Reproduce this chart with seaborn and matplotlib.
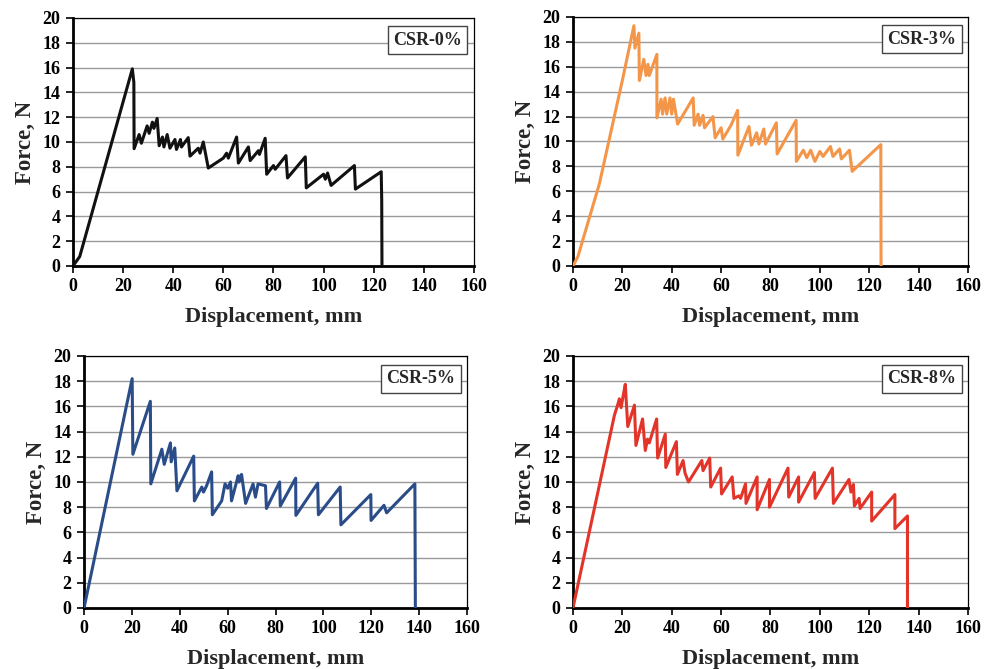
import pandas as pd
import matplotlib.pyplot as plt
import seaborn as sns

csr0_x = [0, 2.7, 23.7, 24.3, 24.4, 26.4, 27.3, 29.6, 30.4, 31.7, 32.3, 33.6, 34.4, 35.7, 36.3, 37.6,
          38.7, 40.7, 41.3, 42.9, 43.3, 46.0, 46.7, 50.0, 50.7, 52.0, 54.0, 60.0, 61.3, 62.0, 65.3, 66.0,
          70.0, 70.7, 74.0, 74.4, 76.7, 77.3, 80.0, 80.7, 85.0, 85.6, 92.7, 93.1, 100.0, 100.7, 101.6,
          103.0, 112.3, 112.7, 123.0, 123.2, 123.3]
csr0_y = [0, 0.76, 15.9, 14.8, 9.46, 10.6, 9.9, 11.3, 10.7, 11.6, 11.1, 11.9, 9.7, 10.4, 9.6, 10.6,
          9.5, 10.2, 9.4, 10.2, 9.6, 10.35, 8.86, 9.5, 9.1, 10.0, 7.9, 8.7, 9.1, 8.7, 10.4, 8.3,
          9.6, 8.5, 9.3, 9.0, 10.3, 7.4, 8.1, 7.8, 8.9, 7.1, 8.8, 6.3, 7.4, 7.0, 7.5,
          6.5, 8.1, 6.2, 7.6, 5.3, 0]

csr3_x = [0, 2.0, 10.7, 20.0, 24.7, 25.1, 26.7, 26.9, 28.7, 29.6, 30.4, 30.9, 34.0, 34.0, 35.7, 36.3,
          37.3, 38.0, 39.3, 40.0, 40.7, 42.4, 48.7, 49.1, 50.7, 51.3, 52.7, 53.3, 56.7, 57.6, 60.0,
          60.7, 64.0, 66.7, 66.8, 71.3, 72.3, 74.4, 75.3, 77.3, 78.0, 82.4, 82.7, 90.4, 90.5, 93.3,
          94.7, 96.3, 98.0, 100.0, 101.3, 104.3, 105.3, 108.0, 108.7, 112.0, 113.1, 124.7, 124.8]
csr3_y = [0, 0.75, 6.6, 14.9, 19.3, 17.5, 18.7, 14.9, 16.6, 15.3, 16.2, 15.3, 17.0, 11.9, 13.4, 12.2,
          13.5, 12.2, 13.5, 12.2, 13.4, 11.4, 13.5, 11.3, 12.2, 11.3, 12.1, 11.1, 12.0, 10.3, 11.1,
          10.2, 11.3, 12.5, 8.9, 11.2, 9.7, 10.7, 9.8, 11.0, 9.8, 11.5, 9.0, 11.7, 8.4, 9.3,
          8.7, 9.3, 8.4, 9.2, 8.8, 9.6, 8.8, 9.4, 8.6, 9.3, 7.6, 9.75, 0]

csr5_x = [0, 20.1, 20.4, 27.7, 27.9, 32.5, 33.5, 36.1, 36.4, 37.9, 38.8, 45.8, 46.1, 49.2, 49.9, 51.2,
          53.3, 53.6, 57.5, 58.9, 60.0, 61.2, 61.6, 64.4, 64.7, 65.8, 67.5, 70.6, 71.6, 72.7, 75.8,
          76.2, 81.7, 82.0, 88.4, 88.5, 97.6, 97.9, 107.0, 107.3, 119.8, 119.9, 125.3, 126.4, 138.2, 138.4]
csr5_y = [0, 18.2, 12.2, 16.4, 9.85, 12.6, 11.4, 13.1, 11.6, 12.7, 9.3, 12.05, 8.5, 9.6, 9.2, 9.7,
          10.8, 7.4, 8.5, 9.85, 9.5, 10.0, 8.5, 10.5, 10.0, 10.6, 8.3, 9.85, 8.8, 9.85, 9.7,
          7.9, 10.0, 8.1, 10.3, 7.35, 9.9, 7.4, 9.6, 6.6, 9.0, 6.95, 8.15, 7.55, 9.85, 0]

csr8_x = [0, 16.8, 18.1, 18.8, 19.5, 20.4, 21.2, 22.2, 24.9, 25.5, 28.2, 29.3, 30.2, 30.9, 33.9, 34.3,
          37.4, 37.6, 41.9, 42.3, 44.6, 45.4, 46.8, 52.2, 52.7, 55.4, 55.8, 59.8, 60.2, 64.5, 65.2,
          67.2, 67.9, 69.9, 70.1, 74.6, 74.6, 79.6, 79.6, 87.1, 87.4, 91.4, 91.4, 97.8, 98.1, 105.1,
          105.5, 111.8, 112.6, 113.6, 114.0, 115.9, 116.3, 121.0, 121.0, 130.4, 130.4, 135.5, 135.5]
csr8_y = [0, 15.3, 16.1, 16.6, 15.9, 16.9, 17.75, 14.4, 16.1, 12.9, 15.0, 12.5, 13.4, 13.1, 15.0, 11.9,
          13.8, 11.15, 13.2, 10.6, 11.7, 10.7, 10.0, 11.7, 10.9, 11.9, 9.6, 11.1, 9.05, 10.4, 8.7,
          8.9, 8.7, 9.85, 8.3, 10.4, 7.8, 10.2, 8.0, 11.1, 8.8, 10.4, 8.4, 10.75, 8.7, 11.1,
          8.3, 10.2, 9.2, 9.8, 8.1, 8.7, 7.9, 9.2, 6.9, 9.0, 6.3, 7.3, 0]

labels = ["CSR-0%", "CSR-3%", "CSR-5%", "CSR-8%"]
colors = ["#111111", "#F4964A", "#2A4D8A", "#E3342A"]
curves = [(csr0_x, csr0_y), (csr3_x, csr3_y), (csr5_x, csr5_y), (csr8_x, csr8_y)]

# axes boxes in figure fractions (left, bottom, width, height)
boxes = [
    [0.0731, 0.6024, 0.4018, 0.3707],
    [0.5741, 0.6024, 0.3958, 0.3722],
    [0.0842, 0.0912, 0.3838, 0.3767],
    [0.5741, 0.0912, 0.3958, 0.3767],
]

sns.set_style("white")
plt.rcParams['font.family'] = ['Liberation Serif', 'DejaVu Serif']
plt.rcParams['font.weight'] = 'bold'

fig = plt.figure(figsize=(9.98, 6.69), dpi=100)

for (xs, ys), lab, col, box in zip(curves, labels, colors, boxes):
    ax = fig.add_axes(box)
    df = pd.DataFrame({"Displacement": xs, "Force": ys})
    sns.lineplot(data=df, x="Displacement", y="Force", sort=False, estimator=None,
                 color=col, lw=2.2, ax=ax, zorder=3)
    ax.set_xlim(0, 160)
    ax.set_ylim(0, 20)
    ax.set_xticks(range(0, 161, 20))
    ax.set_yticks(range(0, 21, 2))
    ax.yaxis.grid(True, color="#9a9a9a", lw=1.0)
    ax.set_axisbelow(True)
    for side in ["top", "right"]:
        ax.spines[side].set_linewidth(0.9)
        ax.spines[side].set_color("black")
    for side in ["left", "bottom"]:
        ax.spines[side].set_linewidth(2.0)
        ax.spines[side].set_color("black")
    ax.tick_params(axis="both", direction="out", length=5, width=1.2, colors="black",
                   labelsize=13, left=True, bottom=True, pad=4)
    for t in ax.get_xticklabels() + ax.get_yticklabels():
        t.set_fontweight("bold")
    ax.set_xlabel("Displacement, mm", fontsize=16, fontweight="bold", labelpad=8)
    ax.set_ylabel("Force, N", fontsize=16.5, fontweight="bold", labelpad=5)
    ax.text(0.97, 0.91, lab, transform=ax.transAxes, ha="right", va="center",
            fontsize=13, fontweight="bold", zorder=5,
            bbox=dict(boxstyle="square,pad=0.3", fc="white", ec="#444444", lw=1.0))

fig.savefig("out.png", dpi=100)
